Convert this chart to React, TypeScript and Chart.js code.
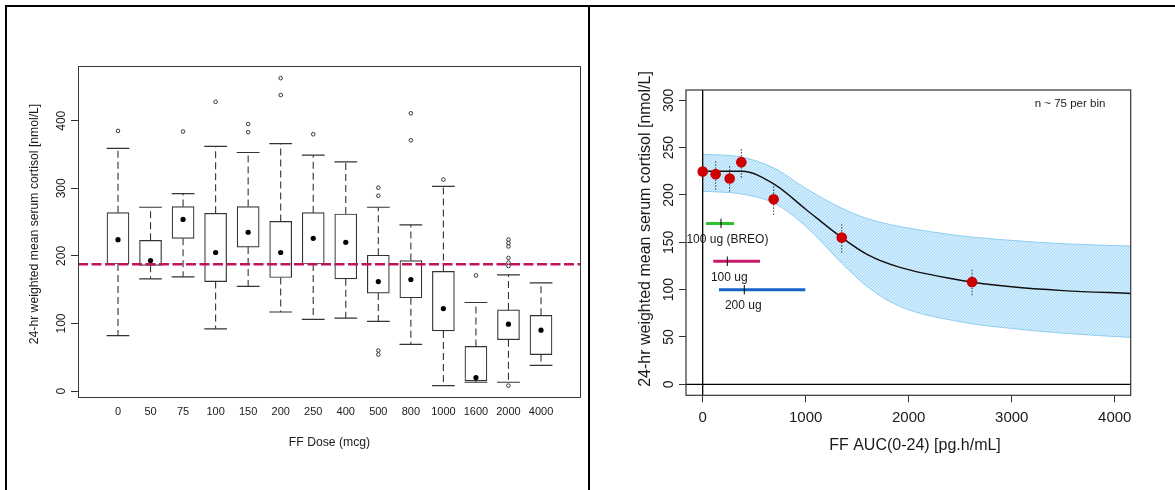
import React, { useEffect, useRef } from 'react';
import { Chart, registerables } from 'chart.js';

Chart.register(...registerables);

const FONT = '"Liberation Sans", Arial, Helvetica, sans-serif';

// ---------- Left panel: box plot by dose ----------
const doseLabels = ['0', '50', '75', '100', '150', '200', '250', '400', '500', '800', '1000', '1600', '2000', '4000'];
const whiskerLow = [82, 166, 169, 92, 155, 117, 106, 108, 103, 69, 8, 13, 13, 38];
const boxQ1 = [188, 186, 226, 162, 213, 168, 188, 166, 145, 138, 89, 15, 76, 54];
const boxQ3 = [264, 223, 273, 263, 273, 251, 264, 262, 201, 193, 177, 66, 120, 112];
const whiskerHigh = [359, 272, 292, 362, 353, 366, 349, 339, 272, 246, 303, 131, 172, 160];
const centerDots = [224, 193, 254, 205, 235, 205, 226, 220, 162, 165, 122, 20, 99, 90];
const outliers = [
  [385], [], [384], [428], [395, 383], [463, 438], [380], [],
  [301, 289, 60, 54], [411, 371], [313], [171], [224, 219, 214, 197, 190, 185, 8], [],
];
const referenceLevel = 187.6;
const leftYTicks = [0, 100, 200, 300, 400];
const leftXTitle = 'FF Dose (mcg)';
const leftYTitle = '24-hr weighted mean serum cortisol [nmol/L]';

// ---------- Right panel: exposure-response ----------
const binAuc = [0, 126, 262, 375, 689, 1350, 2615];
const binMean = [224.7, 222, 217.4, 234.7, 195.4, 155, 108.1];
const binLow = [219, 205.4, 203.6, 218.4, 179, 139.1, 94.1];
const binHigh = [230, 237, 231.5, 249.4, 210.7, 169.1, 121.6];

const fitAuc = [0, 380, 700, 1000, 1350, 1600, 1900, 2500, 3000, 3500, 4155];
const fitCortisol = [225, 225, 211, 185, 155, 137, 124, 110, 103, 99, 96];
const bandUpper = [243, 240, 228, 207, 186, 175, 167, 157, 152, 148.5, 146];
const bandLower = [204, 201, 191, 167, 128, 103, 83, 66, 59, 54, 49.5];

const doseNames = ['100 ug (BREO)', '100 ug', '200 ug'];
const doseLevel = [170, 130, 100];
const doseAucLow = [32, 103, 158];
const doseAucMid = [178, 239, 404];
const doseAucHigh = [304, 556, 996];
const doseColors = ['#2FBF2F', '#C8196B', '#1565C8'];
const doseLabelX = [240, 258, 394];

const rightXTicks = [0, 1000, 2000, 3000, 4000];
const rightYTicks = [0, 50, 100, 150, 200, 250, 300];
const rightXTitle = 'FF AUC(0-24) [pg.h/mL]';
const rightYTitle = '24-hr weighted mean serum cortisol [nmol/L]';
const noteText = 'n ~ 75 per bin';
const noteAnchor = { x: 3566, y: 296 };

// axis ranges
const LX_MIN = -1.229, LX_MAX = 14.229, LY_MIN = -10.3, LY_MAX = 481;
const RX_MIN = -162, RX_MAX = 4155, RY_MIN = -11.6, RY_MAX = 310.9;
const CAP_HALF = 0.35;
const DOSE_TICK_HALF = 5;

function rotText(ctx: CanvasRenderingContext2D, text: string, x: number, y: number) {
  ctx.save();
  ctx.translate(x, y);
  ctx.rotate(-Math.PI / 2);
  ctx.fillText(text, 0, 0);
  ctx.restore();
}

const leftDecor = {
  id: 'leftDecor',
  afterDraw(chart: any) {
    const { ctx, chartArea: a, scales } = chart;
    const y = scales.y;
    ctx.save();
    ctx.strokeStyle = '#3a3a3a';
    ctx.lineWidth = 1;
    ctx.strokeRect(a.left + 0.5, a.top + 0.5, a.right - a.left - 1, a.bottom - a.top - 1);
    ctx.fillStyle = '#1a1a1a';
    ctx.textAlign = 'center';
    ctx.textBaseline = 'middle';
    ctx.font = `12px ${FONT}`;
    leftYTicks.forEach((v) => rotText(ctx, String(v), 62, y.getPixelForValue(v)));
    ctx.font = `12.2px ${FONT}`;
    rotText(ctx, leftYTitle, 35, 224);
    ctx.fillText(leftXTitle, (a.left + a.right) / 2, 443);
    ctx.restore();
  },
};

const rightDecor = {
  id: 'rightDecor',
  afterDraw(chart: any) {
    const { ctx, chartArea: a, scales } = chart;
    const x = scales.x, y = scales.y;
    ctx.save();
    ctx.strokeStyle = '#333';
    ctx.lineWidth = 1.2;
    ctx.strokeRect(a.left, a.top, a.right - a.left, a.bottom - a.top);
    ctx.fillStyle = '#1a1a1a';
    ctx.textAlign = 'center';
    ctx.textBaseline = 'middle';
    ctx.font = `14px ${FONT}`;
    rightYTicks.forEach((v) => rotText(ctx, String(v), 79, y.getPixelForValue(v)));
    ctx.font = `16px ${FONT}`;
    rotText(ctx, rightYTitle, 56, 229);
    ctx.fillText(rightXTitle, 325, 446);
    ctx.font = `12px ${FONT}`;
    doseNames.forEach((n, i) =>
      ctx.fillText(n, x.getPixelForValue(doseLabelX[i]), y.getPixelForValue(doseLevel[i]) + 16)
    );
    ctx.font = `11.5px ${FONT}`;
    ctx.fillText(noteText, x.getPixelForValue(noteAnchor.x), y.getPixelForValue(noteAnchor.y));
    ctx.restore();
  },
};

function makeHatch(): any {
  const c = document.createElement('canvas');
  c.width = 3;
  c.height = 3;
  const g = c.getContext('2d')!;
  g.fillStyle = '#d3edfc';
  g.fillRect(0, 0, 3, 3);
  g.strokeStyle = '#a5daf8';
  g.lineWidth = 1;
  g.beginPath();
  g.moveTo(-1, 4);
  g.lineTo(4, -1);
  g.stroke();
  return g.createPattern(c, 'repeat');
}

function leftConfig(): any {
  const idx = doseLabels.map((_, i) => i);
  const boxes = idx.map((i) => ({ x: i, y: [boxQ1[i], boxQ3[i]] }));
  const whiskers: any[] = [];
  const caps: any[] = [];
  idx.forEach((i) => {
    whiskers.push({ x: i, y: boxQ3[i] }, { x: i, y: whiskerHigh[i] }, { x: i, y: null });
    whiskers.push({ x: i, y: boxQ1[i] }, { x: i, y: whiskerLow[i] }, { x: i, y: null });
    caps.push({ x: i - CAP_HALF, y: whiskerHigh[i] }, { x: i + CAP_HALF, y: whiskerHigh[i] }, { x: i, y: null });
    caps.push({ x: i - CAP_HALF, y: whiskerLow[i] }, { x: i + CAP_HALF, y: whiskerLow[i] }, { x: i, y: null });
  });
  const dots = idx.map((i) => ({ x: i, y: centerDots[i] }));
  const outs = outliers.flatMap((arr, i) => arr.map((v) => ({ x: i, y: v })));
  const ref = [{ x: LX_MIN, y: referenceLevel }, { x: LX_MAX, y: referenceLevel }];
  const lineBase = { pointRadius: 0, tension: 0, spanGaps: false, fill: false };
  return {
    type: 'line',
    data: {
      datasets: [
        { ...lineBase, type: 'line', data: ref, borderColor: '#C0135E', borderWidth: 2.5, borderDash: [10, 3.5], order: 0 },
        { type: 'scatter', data: dots, pointRadius: 2.6, pointBackgroundColor: '#000', pointBorderWidth: 0, order: 1 },
        { type: 'scatter', data: outs, pointRadius: 1.8, pointBackgroundColor: '#fff', pointBorderColor: '#333', pointBorderWidth: 1, order: 1 },
        { ...lineBase, type: 'line', data: caps, borderColor: '#333', borderWidth: 1.2, order: 3 },
        { ...lineBase, type: 'line', data: whiskers, borderColor: '#333', borderWidth: 1.1, borderDash: [7, 4], order: 3 },
        { type: 'bar', data: boxes, backgroundColor: '#fff', borderColor: '#333', borderWidth: 1.2, borderSkipped: false, barThickness: 22, order: 4 },
      ],
    },
    options: {
      responsive: false,
      animation: false,
      devicePixelRatio: 1,
      events: [],
      layout: { padding: { left: 0, top: 66, right: 7, bottom: 0 } },
      plugins: { legend: { display: false }, tooltip: { enabled: false }, title: { display: false } },
      scales: {
        x: {
          type: 'linear', min: LX_MIN, max: LX_MAX, offset: false,
          afterBuildTicks: (s: any) => { s.ticks = doseLabels.map((_, i) => ({ value: i })); },
          afterFit: (s: any) => { s.height = 92; },
          ticks: {
            autoSkip: false, maxRotation: 0, minRotation: 0, padding: 7,
            font: { size: 11, family: FONT }, color: '#1a1a1a',
            callback: (v: any) => doseLabels[Math.round(Number(v))],
          },
          grid: { display: true, drawOnChartArea: false, drawTicks: false },
          border: { display: false },
        },
        y: {
          type: 'linear', min: LY_MIN, max: LY_MAX,
          afterBuildTicks: (s: any) => { s.ticks = leftYTicks.map((v) => ({ value: v })); },
          afterFit: (s: any) => { s.width = 78; },
          ticks: { display: false },
          grid: { display: true, drawOnChartArea: false, drawTicks: true, tickLength: 7, tickColor: '#333', tickWidth: 1 },
          border: { display: false },
        },
      },
    },
    plugins: [leftDecor],
  };
}

function rightConfig(): any {
  const lineBase = { pointRadius: 0, spanGaps: false, fill: false };
  const upper = fitAuc.map((x, i) => ({ x, y: bandUpper[i] }));
  const lower = fitAuc.map((x, i) => ({ x, y: bandLower[i] }));
  const curve = fitAuc.map((x, i) => ({ x, y: fitCortisol[i] }));
  const points = binAuc.map((x, i) => ({ x, y: binMean[i] }));
  const errs: any[] = [];
  binAuc.forEach((x, i) => errs.push({ x, y: binLow[i] }, { x, y: binHigh[i] }, { x, y: null }));
  const zeros = [
    { x: 0, y: RY_MIN }, { x: 0, y: RY_MAX }, { x: 0, y: null },
    { x: RX_MIN, y: 0 }, { x: RX_MAX, y: 0 },
  ];
  const doseTicks: any[] = [];
  doseAucMid.forEach((m, i) =>
    doseTicks.push({ x: m, y: doseLevel[i] - DOSE_TICK_HALF }, { x: m, y: doseLevel[i] + DOSE_TICK_HALF }, { x: m, y: null })
  );
  const doseBars = doseNames.map((_, i) => ({
    ...lineBase, type: 'line', tension: 0,
    data: [{ x: doseAucLow[i], y: doseLevel[i] }, { x: doseAucHigh[i], y: doseLevel[i] }],
    borderColor: doseColors[i], borderWidth: 3, order: 1,
  }));
  return {
    type: 'line',
    data: {
      datasets: [
        { ...lineBase, type: 'line', data: upper, cubicInterpolationMode: 'monotone', borderColor: '#8fcdf2', borderWidth: 1, fill: '+1', backgroundColor: makeHatch(), order: 7 },
        { ...lineBase, type: 'line', data: lower, cubicInterpolationMode: 'monotone', borderColor: '#8fcdf2', borderWidth: 1, order: 6 },
        { ...lineBase, type: 'line', data: curve, cubicInterpolationMode: 'monotone', borderColor: '#111', borderWidth: 1.4, order: 5 },
        { ...lineBase, type: 'line', tension: 0, data: zeros, borderColor: '#000', borderWidth: 1.3, order: 4 },
        { ...lineBase, type: 'line', tension: 0, data: errs, borderColor: '#2b3550', borderWidth: 1, borderDash: [1.5, 1.5], order: 3 },
        { type: 'scatter', data: points, pointRadius: 5.3, pointBackgroundColor: '#CC0000', pointBorderWidth: 0, order: 2 },
        ...doseBars,
        { ...lineBase, type: 'line', tension: 0, data: doseTicks, borderColor: '#000', borderWidth: 1, order: 0 },
      ],
    },
    options: {
      responsive: false,
      animation: false,
      devicePixelRatio: 1,
      events: [],
      layout: { padding: { left: 0, top: 90, right: 44.3, bottom: 0 } },
      plugins: { legend: { display: false }, tooltip: { enabled: false }, title: { display: false }, filler: { propagate: false } },
      scales: {
        x: {
          type: 'linear', min: RX_MIN, max: RX_MAX, offset: false,
          afterBuildTicks: (s: any) => { s.ticks = rightXTicks.map((v) => ({ value: v })); },
          afterFit: (s: any) => { s.height = 94.7; },
          ticks: {
            autoSkip: false, maxRotation: 0, minRotation: 0, padding: 7,
            font: { size: 15, family: FONT }, color: '#1a1a1a',
            callback: (v: any) => String(v),
          },
          grid: { display: true, drawOnChartArea: false, drawTicks: true, tickLength: 7, tickColor: '#333', tickWidth: 1 },
          border: { display: false },
        },
        y: {
          type: 'linear', min: RY_MIN, max: RY_MAX,
          afterBuildTicks: (s: any) => { s.ticks = rightYTicks.map((v) => ({ value: v })); },
          afterFit: (s: any) => { s.width = 96; },
          ticks: { display: false },
          grid: { display: true, drawOnChartArea: false, drawTicks: true, tickLength: 7, tickColor: '#333', tickWidth: 1 },
          border: { display: false },
        },
      },
    },
    plugins: [rightDecor],
  };
}

export default function App() {
  const leftRef = useRef<HTMLCanvasElement>(null);
  const rightRef = useRef<HTMLCanvasElement>(null);
  useEffect(() => {
    const c1 = new Chart(leftRef.current as HTMLCanvasElement, leftConfig());
    const c2 = new Chart(rightRef.current as HTMLCanvasElement, rightConfig());
    return () => {
      c1.destroy();
      c2.destroy();
    };
  }, []);
  return (
    <div style={{ position: 'absolute', left: 0, top: 0, width: 1175, height: 490, background: '#fff', overflow: 'hidden' }}>
      <canvas ref={leftRef} width={588} height={490} style={{ position: 'absolute', left: 0, top: 0 }} />
      <canvas ref={rightRef} width={585} height={490} style={{ position: 'absolute', left: 590, top: 0 }} />
      <div style={{ position: 'absolute', left: 5, top: 5, width: 1170, height: 2, background: '#000' }} />
      <div style={{ position: 'absolute', left: 5, top: 5, width: 2, height: 485, background: '#000' }} />
      <div style={{ position: 'absolute', left: 588, top: 5, width: 2, height: 485, background: '#000' }} />
    </div>
  );
}
